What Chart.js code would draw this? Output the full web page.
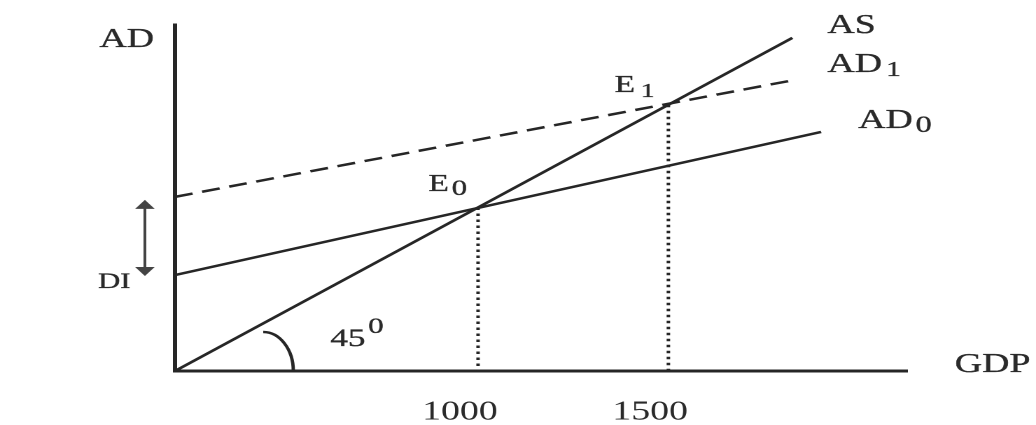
<!DOCTYPE html>
<html><head><meta charset="utf-8">
<script src="https://cdn.jsdelivr.net/npm/chart.js@4"></script>
<style>
html,body{margin:0;padding:0;background:#fff;overflow:hidden;}
#wrap{width:740px;height:425px;transform:scaleX(1.4);transform-origin:0 0;}
</style></head><body>
<div id="wrap"><canvas id="c" width="740" height="425"></canvas></div>
<script>
// ---- data (GDP units, AD units; AS is the 45° line) ----
const axisTitles = ['GDP', 'AD'];
const asGDP  = [0, 2037];
const asAD   = [0, 2037];
const ad1GDP = [0, 2030];
const ad1AD  = [1065, 1775];
const ad0GDP = [0, 2132];
const ad0AD  = [587, 1462];
const eqGDP  = [1000, 1628];
const eqAD   = [1000, 1628];
const xTickLabels = ['1000', '1500'];
const curveLabels = [['AS', ''], ['AD', '1'], ['AD', '0']];
const eqLabels = [['E', '0'], ['E', '1']];
const shiftLabel = 'DI';
const angleLabel = ['45', '0'];

const INK = '#262626';
const TXT = '#2a2a2a';
const SERIF = '"Liberation Serif", "Times New Roman", serif';
const pts = (xs, ys) => xs.map((v, i) => ({x: v, y: ys[i]}));

const annot = {
  id: 'annot',
  afterDraw(chart) {
    const {ctx, scales: {x, y}} = chart;
    ctx.save();
    ctx.fillStyle = TXT;
    ctx.strokeStyle = TXT;
    ctx.lineWidth = 0.35;
    ctx.textBaseline = 'alphabetic';
    ctx.textAlign = 'left';
    const T = (str, px, py, size) => {
      ctx.font = size + 'px ' + SERIF;
      ctx.fillText(str, px, py);
      ctx.strokeText(str, px, py);
      return px + ctx.measureText(str).width;
    };
    // axis titles
    T(axisTitles[1], 71, 47, 27);
    T(axisTitles[0], 682, 372, 27);
    // curve labels
    T(curveLabels[0][0], 591, 33, 27);
    let e = T(curveLabels[1][0], 591, 72, 27); T(curveLabels[1][1], e + 3, 76, 21);
    e = T(curveLabels[2][0], 613, 128, 27); T(curveLabels[2][1], e + 2, 132, 23);
    // equilibrium labels
    e = T(eqLabels[1][0], 439, 92, 24); T(eqLabels[1][1], e + 4, 97, 20);
    e = T(eqLabels[0][0], 306, 191, 24); T(eqLabels[0][1], e + 2, 195, 22);
    // shift label
    T(shiftLabel, 70, 288, 22);
    // angle label
    e = T(angleLabel[0], 236, 346, 25); T(angleLabel[1], e + 2, 333, 22);

    // double arrow for the shift
    const ax = x.left - 21.5;
    const yTop = y.getPixelForValue(ad1AD[0]) + 3;
    const yBot = y.getPixelForValue(ad0AD[0]) + 1;
    ctx.strokeStyle = '#444';
    ctx.fillStyle = '#444';
    ctx.lineWidth = 2;
    ctx.beginPath(); ctx.moveTo(ax, yTop + 6); ctx.lineTo(ax, yBot - 6); ctx.stroke();
    ctx.beginPath(); ctx.moveTo(ax, yTop); ctx.lineTo(ax - 7, yTop + 9); ctx.lineTo(ax + 7, yTop + 9); ctx.closePath(); ctx.fill();
    ctx.beginPath(); ctx.moveTo(ax, yBot); ctx.lineTo(ax - 7, yBot - 9); ctx.lineTo(ax + 7, yBot - 9); ctx.closePath(); ctx.fill();

    // angle arc
    const ox = x.getPixelForValue(0), oy = y.getPixelForValue(0);
    ctx.strokeStyle = INK;
    ctx.lineWidth = 2.4;
    ctx.beginPath(); ctx.ellipse(ox + 63, oy, 21.5, 39, 0, -Math.PI / 2, 0); ctx.stroke();
    ctx.restore();
  }
};

const lineDs = (label, data, extra) => Object.assign({
  label, data, showLine: true, borderColor: INK, backgroundColor: INK,
  borderWidth: 2.5, pointRadius: 0, pointHoverRadius: 0, clip: false, tension: 0
}, extra || {});

new Chart(document.getElementById('c'), {
  type: 'scatter',
  data: {
    datasets: [
      lineDs('AS', pts(asGDP, asAD)),
      lineDs('AD1', pts(ad1GDP, ad1AD), {borderDash: [13, 7]}),
      lineDs('AD0', pts(ad0GDP, ad0AD)),
      lineDs('E0 drop', [{x: eqGDP[0], y: eqAD[0]}, {x: eqGDP[0], y: 0}], {borderDash: [2.5, 3.5], borderWidth: 2.5}),
      lineDs('E1 drop', [{x: eqGDP[1], y: eqAD[1]}, {x: eqGDP[1], y: 0}], {borderDash: [2.5, 3.5], borderWidth: 2.5})
    ]
  },
  options: {
    responsive: false,
    animation: false,
    devicePixelRatio: 2,
    layout: {padding: {left: 125, top: 25, right: 92, bottom: 0}},
    plugins: {legend: {display: false}, tooltip: {enabled: false}},
    scales: {
      x: {
        type: 'linear', min: 0, max: 2416,
        grid: {display: false, drawTicks: false, tickLength: 0},
        border: {display: true, color: INK, width: 3},
        afterBuildTicks: s => { s.ticks = eqGDP.map(v => ({value: v})); },
        ticks: {
          callback: (v, i) => xTickLabels[i],
          font: {family: SERIF, size: 27},
          color: TXT, padding: 25, labelOffset: -13,
          maxRotation: 0, minRotation: 0, autoSkip: false
        },
        afterFit: s => { s.height = 54; }
      },
      y: {
        type: 'linear', min: 0, max: 2116,
        grid: {display: false, drawTicks: false, tickLength: 0},
        border: {display: true, color: INK, width: 3},
        ticks: {display: false},
        afterFit: s => { s.width = 0; }
      }
    }
  },
  plugins: [annot]
});
</script>
</body></html>
